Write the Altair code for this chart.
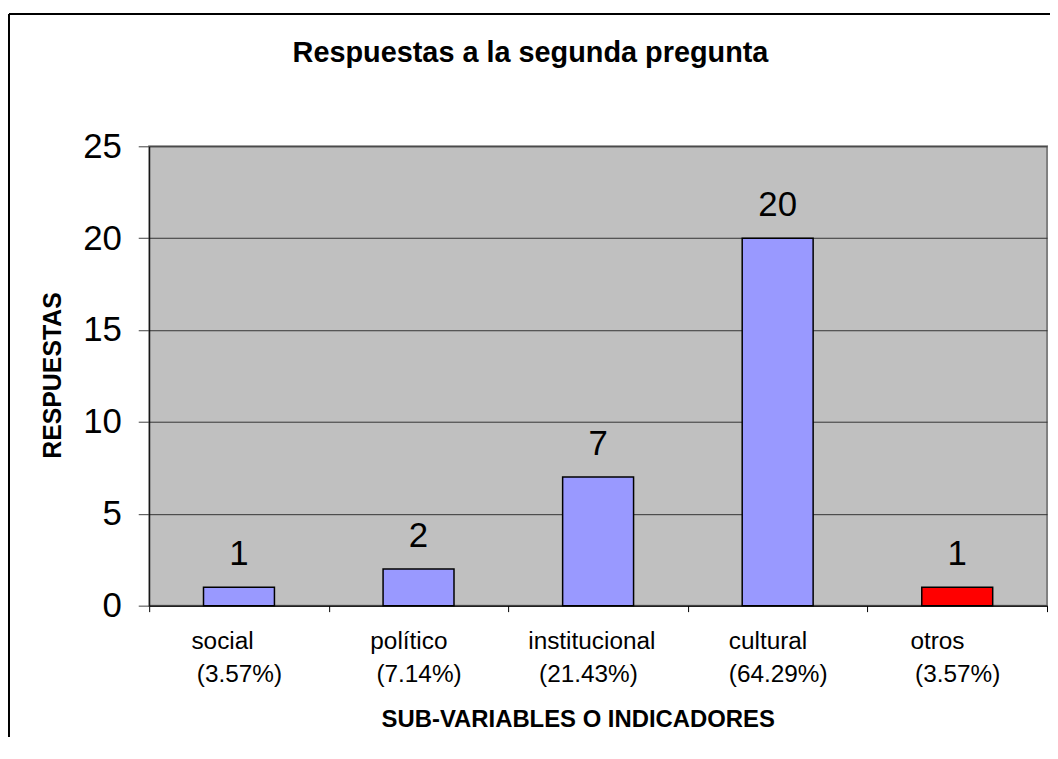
import altair as alt
import pandas as pd

categories = ["social", "político", "institucional", "cultural", "otros"]
values = [1, 2, 7, 20, 1]
percents = ["(3.57%)", "(7.14%)", "(21.43%)", "(64.29%)", "(3.57%)"]
groups = ["main", "main", "main", "main", "otros"]
# trailing non-breaking spaces (closed by a word joiner so they are kept)
# reproduce the wrapped Excel label text
NB = "\u00a0"
WJ = "\u2060"
name_pad = [5, 3, 2, 3, 6]
pct_pad = [0, 0, 3, 0, 0]

labels = [c + NB * a + WJ + "|" + p + NB * b + WJ
          for c, p, a, b in zip(categories, percents, name_pad, pct_pad)]

df = pd.DataFrame({"label": labels, "value": values, "group": groups})

FONT = "Liberation Sans"

x_enc = alt.X(
    "label:N", sort=None,
    scale=alt.Scale(paddingInner=0, paddingOuter=0),
    axis=alt.Axis(
        title="SUB-VARIABLES O INDICADORES",
        labelExpr="isValid(datum.value) ? split(datum.value, '|') : ''",
        labelAngle=0, labelFontSize=24.5, labelFont=FONT, labelColor="black",
        labelLineHeight=33, labelPadding=18, labelBaseline="top", labelLimit=400,
        tickBand="extent", tickSize=6, tickColor="black",
        domainColor="black", domainWidth=1,
        titleFont=FONT, titleFontSize=24, titleFontWeight="bold", titleColor="black",
        titleX=431, titleY=122, titleAlign="center", titleBaseline="alphabetic",
        grid=False,
    ),
)
y_enc = alt.Y(
    "value:Q",
    scale=alt.Scale(domain=[0, 25], nice=False),
    axis=alt.Axis(
        title="RESPUESTAS", values=[0, 5, 10, 15, 20, 25],
        labelFontSize=35, labelFont=FONT, labelColor="black", labelPadding=17,
        tickSize=11, tickColor="#404040",
        domainColor="black", domainWidth=1,
        grid=True, gridColor="#333333", gridWidth=1,
        titleFont=FONT, titleFontSize=25, titleFontWeight="bold", titleColor="black",
        titleAngle=-90, titleX=-89, titleY=230, titleAlign="center",
        titleBaseline="alphabetic",
    ),
)

bars = alt.Chart(df).mark_bar(
    width=alt.RelativeBandSize(0.395), stroke="black", strokeWidth=1.5
).encode(
    x=x_enc, y=y_enc,
    color=alt.Color("group:N", legend=None,
                    scale=alt.Scale(domain=["main", "otros"], range=["#9999FF", "#FF0000"])),
)

text = alt.Chart(df).mark_text(
    baseline="alphabetic", dy=-22, fontSize=35, font=FONT, color="black"
).encode(x=alt.X("label:N", sort=None), y="value:Q", text="value:Q")

frame_df = pd.DataFrame({"k": [0]})
frame_top = alt.Chart(frame_df).mark_rule(color="black", strokeWidth=2).encode(
    x=alt.value(-141), x2=alt.value(920), y=alt.value(-133))
frame_left = alt.Chart(frame_df).mark_rule(color="black", strokeWidth=2).encode(
    x=alt.value(-141), y=alt.value(-133), y2=alt.value(640))

chart = alt.layer(bars, text, frame_top, frame_left).properties(
    width=903, height=462,
    background="white",
    title=alt.TitleParams(
        "Respuestas a la segunda pregunta", font=FONT, fontSize=29,
        fontWeight="bold", color="black", anchor="middle", frame="group",
        dx=-68, offset=-78, baseline="alphabetic",
    ),
    autosize=alt.AutoSizeParams(type="none"),
    padding={"left": 142, "top": 137, "right": 3, "bottom": 130},
).configure_view(
    fill="#C0C0C0", stroke="#808080", strokeWidth=2
)

chart.save("out.html", embed_options={"renderer": "svg", "actions": False})
